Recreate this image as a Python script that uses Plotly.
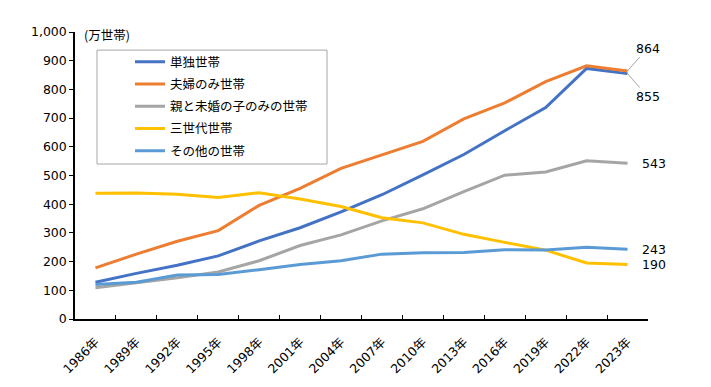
import plotly.graph_objects as go

years = ["1986年", "1989年", "1992年", "1995年", "1998年", "2001年", "2004年",
         "2007年", "2010年", "2013年", "2016年", "2019年", "2022年", "2023年"]
single = [128, 159, 187, 220, 272, 318, 373, 433, 502, 573, 656, 737, 873, 855]
couple = [178, 226, 271, 308, 396, 455, 525, 573, 619, 697, 753, 827, 882, 864]
parent_child = [109, 126, 144, 164, 203, 256, 293, 342, 384, 444, 501, 512, 551, 543]
three_gen = [438, 439, 435, 423, 440, 418, 392, 353, 335, 295, 267, 240, 195, 190]
other = [120, 128, 153, 155, 172, 190, 203, 226, 231, 232, 241, 240, 250, 243]

names = ["単独世帯", "夫婦のみ世帯", "親と未婚の子のみの世帯", "三世代世帯", "その他の世帯"]
colors = ["#4472C4", "#ED7D31", "#A5A5A5", "#FFC000", "#5B9BD5"]
series = [single, couple, parent_child, three_gen, other]

FONT = "'DejaVu Sans', 'Noto Sans CJK JP', sans-serif"
CJK = "Noto Sans CJK JP"

fig = go.Figure()
for i, (n, c, s) in enumerate(zip(names, colors, series)):
    fig.add_trace(go.Scatter(x=years, y=s, name=n, mode="lines",
                             line=dict(color=c, width=3), legendgroup=str(i)))

# end labels
last = years[-1]
fig.add_annotation(x=last, y=couple[-1], text=str(couple[-1]), showarrow=True,
                   arrowhead=0, arrowcolor="#A6A6A6", arrowwidth=1, ax=20, ay=-23,
                   font=dict(size=12.5, color="#000"))
fig.add_annotation(x=last, y=single[-1], text=str(single[-1]), showarrow=True,
                   arrowhead=0, arrowcolor="#A6A6A6", arrowwidth=1, ax=20, ay=23,
                   font=dict(size=12.5, color="#000"))
for s in [parent_child, other, three_gen]:
    fig.add_annotation(x=last, y=s[-1], text=str(s[-1]), showarrow=False,
                       xanchor="left", xshift=12, font=dict(size=12.5, color="#000"))

fig.add_annotation(xref="paper", yref="paper", x=0.012, y=0.99, text="(万世帯)",
                   showarrow=False, xanchor="left", yanchor="middle",
                   font=dict(size=12.5, color="#000", family=CJK))

# legend frame
fig.add_shape(type="rect", xref="paper", yref="paper", x0=0.0384, x1=0.4398,
              y0=0.540, y1=0.937, line=dict(color="#A6A6A6", width=1),
              fillcolor="rgba(0,0,0,0)")

# page body has an 8px default margin; compensate so the plot lands where the reference has it
fig.update_layout(
    width=711, height=387,
    margin=dict(l=67, r=71, t=24, b=76, autoexpand=False),
    plot_bgcolor="white", paper_bgcolor="white",
    font=dict(family=FONT, size=12.5, color="#000"),
    showlegend=True,
    legend=dict(x=0.096, y=0.947, xanchor="left", yanchor="top",
                bgcolor="rgba(0,0,0,0)", borderwidth=0, itemwidth=30,
                tracegroupgap=3, font=dict(size=12.5, family=CJK)),
    xaxis=dict(type="category", range=[-0.5, 13.5], showgrid=False, automargin=False,
               showline=True, linecolor="#000", linewidth=1.5,
               ticks="inside", ticklen=4, tickson="boundaries", tickcolor="#000",
               tickangle=-45, tickfont=dict(size=12.5), ticklabelstandoff=9),
    yaxis=dict(range=[0, 1000], dtick=100, tickformat=",", showgrid=False, automargin=False,
               showline=True, linecolor="#000", linewidth=1.5,
               ticks="outside", ticklen=4, tickcolor="#000", zeroline=False,
               tickfont=dict(size=12.5)),
)

fig.write_html("out.html")
